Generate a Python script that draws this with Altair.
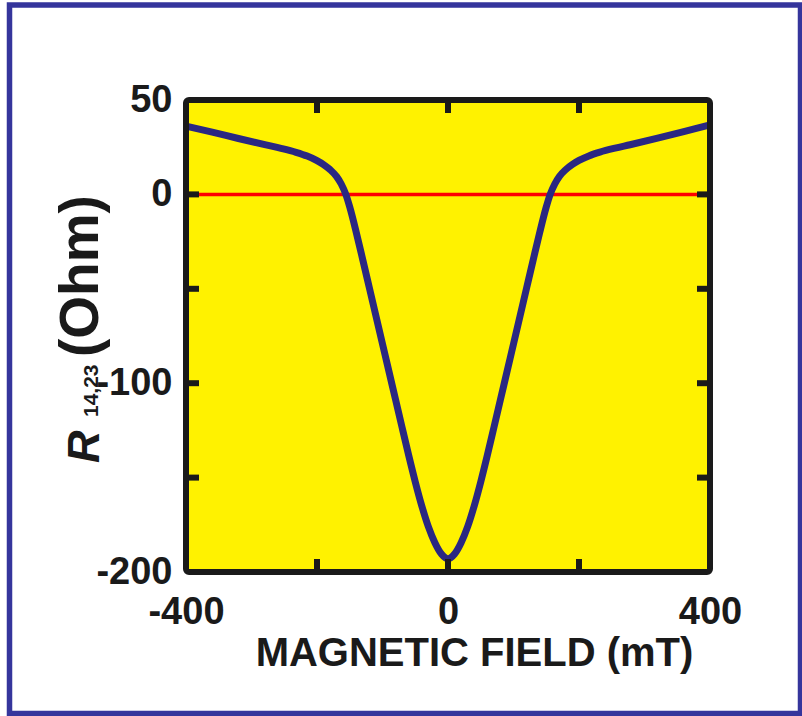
import altair as alt
import pandas as pd

# ---- data ----
FIELD_MT = [-400, -360, -320, -278, -255, -232, -215, -200, -190, -180, -170, -163, -156,
            -150, -140, -130, -120, -110, -100, -90, -80, -70, -60, -50, -40, -30, -20, -10,
            0, 10, 20, 30, 40, 50, 60, 70, 80, 90, 100, 110, 120, 130, 140, 150,
            156, 163, 170, 180, 190, 200, 215, 232, 255, 278, 320, 360, 400]
R_OHM = [36.2, 33.0, 29.6, 26.2, 24.4, 22.3, 20.3, 17.9, 15.8, 13.1, 9.4, 5.5, 0.0,
         -6.7, -20.2, -34.8, -49.6, -64.4, -79.2, -94.0, -108.8, -123.6, -138.2, -152.2, -165.0, -176.0, -184.5, -190.5,
         -193.0, -190.5, -184.5, -176.0, -165.0, -152.2, -138.2, -123.6, -108.8, -94.0, -79.2, -64.4, -49.6, -34.8, -20.2, -6.7,
         0.0, 5.5, 9.5, 13.2, 15.9, 18.0, 20.4, 22.4, 24.5, 26.3, 29.8, 33.3, 36.8]

ZERO_X = [-400, 400]
ZERO_Y = [0, 0]

X_TICKS = [-200, 0, 200]
Y_TICKS = [0, -50, -100, -150]
X_LABELS = [-400, 0, 400]
Y_LABELS = [50, 0, -100, -200]

X_TITLE = "MAGNETIC FIELD (mT)"
Y_TITLE_MAIN = "R"
Y_TITLE_SUB = "14,23"
Y_TITLE_UNIT = "(Ohm)"

W, H = 524, 472
FONT = "Liberation Sans"
INK = "#1a1a1a"

curve_df = pd.DataFrame({"B": FIELD_MT, "R": R_OHM})
zero_df = pd.DataFrame({"B": ZERO_X, "R": ZERO_Y})
xt_df = pd.DataFrame({"B": X_TICKS})
yt_df = pd.DataFrame({"R": Y_TICKS})
one = pd.DataFrame({"k": [0]})

xscale = alt.Scale(domain=[-400, 400], nice=False, zero=False)
yscale = alt.Scale(domain=[-200, 50], nice=False, zero=False)

xaxis = alt.Axis(values=X_LABELS, ticks=False, tickSize=0, domain=False, grid=False,
                 labelExpr="'' + datum.value",
                 labelFont=FONT, labelFontSize=38, labelFontWeight="bold", labelColor=INK,
                 labelPadding=21, labelFlush=False, labelOverlap=False,
                 title=X_TITLE, titleFont=FONT, titleFontSize=40, titleFontWeight="bold",
                 titleColor=INK, titleX=288, titleY=93, titleAlign="center",
                 titleBaseline="alphabetic")
yaxis = alt.Axis(values=Y_LABELS, ticks=False, tickSize=0, domain=False, grid=False,
                 labelExpr="'' + datum.value",
                 labelFont=FONT, labelFontSize=38, labelFontWeight="bold", labelColor=INK,
                 labelPadding=14, labelFlush=False, labelOverlap=False)

zero_line = alt.Chart(zero_df).mark_line(color="#ff0000", strokeWidth=3.5).encode(
    x=alt.X("B:Q", scale=xscale, axis=xaxis),
    y=alt.Y("R:Q", scale=yscale, axis=yaxis, title=None),
)

curve = alt.Chart(curve_df).mark_line(color="#2a2782", strokeWidth=7,
                                      interpolate="monotone").encode(
    x=alt.X("B:Q", scale=xscale),
    y=alt.Y("R:Q", scale=yscale),
)

tick_style = dict(color=INK, strokeWidth=6)
ticks_left = alt.Chart(yt_df).mark_rule(**tick_style).encode(
    y=alt.Y("R:Q", scale=yscale), x=alt.value(0), x2=alt.value(13))
ticks_right = alt.Chart(yt_df).mark_rule(**tick_style).encode(
    y=alt.Y("R:Q", scale=yscale), x=alt.value(W), x2=alt.value(W - 13))
ticks_bottom = alt.Chart(xt_df).mark_rule(**tick_style).encode(
    x=alt.X("B:Q", scale=xscale), y=alt.value(H), y2=alt.value(H - 13))
ticks_top = alt.Chart(xt_df).mark_rule(**tick_style).encode(
    x=alt.X("B:Q", scale=xscale), y=alt.value(0), y2=alt.value(13))

frame = alt.Chart(one).mark_rect(fillOpacity=0, stroke=INK, strokeWidth=6,
                                 cornerRadius=3).encode(
    x=alt.value(0), x2=alt.value(W), y=alt.value(0), y2=alt.value(H))

outer = alt.Chart(one).mark_rect(fillOpacity=0, stroke="#35359c", strokeWidth=5.5).encode(
    x=alt.value(9.5 - 186), x2=alt.value(800.5 - 186),
    y=alt.value(5 - 100), y2=alt.value(713.5 - 100))

title_r = alt.Chart(pd.DataFrame({"t": [Y_TITLE_MAIN]})).mark_text(
    angle=270, align="left", baseline="alphabetic", font=FONT, fontSize=45,
    fontWeight="bold", fontStyle="italic", color=INK).encode(
    text="t:N", x=alt.value(-87), y=alt.value(363))
title_sub = alt.Chart(pd.DataFrame({"t": [Y_TITLE_SUB]})).mark_text(
    angle=270, align="left", baseline="alphabetic", font=FONT, fontSize=21,
    fontWeight="bold", color=INK).encode(
    text="t:N", x=alt.value(-88), y=alt.value(317))
title_unit = alt.Chart(pd.DataFrame({"t": [Y_TITLE_UNIT]})).mark_text(
    angle=270, align="left", baseline="alphabetic", font=FONT, fontSize=55,
    fontWeight="bold", color=INK).encode(
    text="t:N", x=alt.value(-88), y=alt.value(257))

chart = alt.layer(
    zero_line, curve, ticks_left, ticks_right, ticks_bottom, ticks_top, frame,
    outer, title_r, title_sub, title_unit
).properties(
    width=W, height=H,
    autosize=alt.AutoSizeParams(type="none"),
    padding={"left": 186, "top": 100, "right": 802 - 186 - W, "bottom": 716 - 100 - H},
    background="white",
).configure_view(fill="#fff200", strokeWidth=0)

chart.save("out.html", embed_options={"renderer": "svg", "actions": False})
